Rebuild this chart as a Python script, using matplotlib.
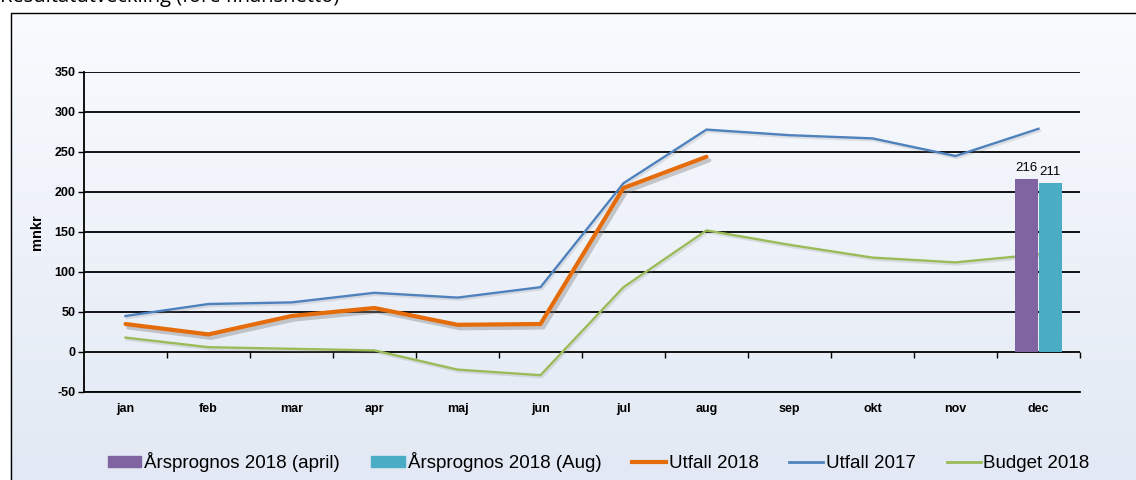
import matplotlib.pyplot as plt
import matplotlib.patheffects as pe
from matplotlib.patches import Rectangle, Patch
from matplotlib.lines import Line2D
from matplotlib.colors import LinearSegmentedColormap
import numpy as np

# Data (mnkr)
months = ["jan", "feb", "mar", "apr", "maj", "jun", "jul", "aug", "sep", "okt", "nov", "dec"]
utfall_2017 = [45, 60, 62, 74, 68, 81, 211, 278, 271, 267, 245, 279]
utfall_2018 = [35, 22, 45, 55, 34, 35, 205, 244]
budget_2018 = [18, 6, 4, 2, -22, -29, 81, 152, 134, 118, 112, 122]
prognos_april = 216
prognos_aug = 211

c_purple = "#8064A2"
c_teal = "#4BACC6"
c_orange = "#E46C0A"
c_blue = "#4F81BD"
c_green = "#9BBB59"

plt.rcParams['font.family'] = ['Liberation Sans', 'DejaVu Sans']
plt.rcParams['axes.unicode_minus'] = False

fig = plt.figure(figsize=(11.36, 4.8), dpi=100)
fig.patch.set_facecolor("white")

# gradient background inside the frame
bg = fig.add_axes([10 / 1136, 0, 1 - 10 / 1136, 1 - 12 / 480], zorder=-10)
grad = np.linspace(0, 1, 256).reshape(-1, 1)
cmap = LinearSegmentedColormap.from_list("bg", ["#F9FBFE", "#E2E9F4"])
bg.imshow(grad, aspect="auto", cmap=cmap, extent=[0, 1, 0, 1], origin="upper")
bg.set_axis_off()

# frame line
fig.patches.append(Rectangle((10.5 / 1136, -0.01), 1.1, 1 - 12.5 / 480 + 0.01,
                             transform=fig.transFigure, fill=False,
                             edgecolor="black", linewidth=1.0, zorder=5))

# heading, clipped at the top as in the reference
fig.text(0.0, 1 - 7 / 480, "Resultatutveckling (före finansnetto)", fontsize=14.5,
         family="Open Sans", va="bottom", ha="left", color="black")

ax = fig.add_axes([84 / 1136, 1 - 392 / 480, 996 / 1136, 320 / 480])
ax.set_facecolor("none")
x = np.arange(len(months))

thin_shadow = [pe.SimpleLineShadow(offset=(1, -1.5), shadow_color="gray", alpha=0.2), pe.Normal()]

ax.plot(x, budget_2018, color=c_green, lw=1.7, zorder=3, path_effects=thin_shadow)
ax.plot(x, utfall_2017, color=c_blue, lw=1.7, zorder=3, path_effects=thin_shadow)
ax.plot(x[:len(utfall_2018)], utfall_2018, color=c_orange, lw=3, zorder=4,
        solid_capstyle="round",
        path_effects=[pe.SimpleLineShadow(offset=(2, -2.5), shadow_color="gray", alpha=0.4), pe.Normal()])

bw = 0.28
b1 = ax.bar(x[-1] - bw / 2, prognos_april, width=bw, color=c_purple, zorder=5)
b2 = ax.bar(x[-1] + bw / 2, prognos_aug, width=bw, color=c_teal, zorder=5)
ax.bar_label(b1, padding=4, fontsize=9.5)
ax.bar_label(b2, padding=4, fontsize=9.5)

ax.set_xlim(-0.5, 11.5)
ax.set_ylim(-50, 350)
ax.set_yticks(range(-50, 351, 50))
ax.yaxis.grid(True, color="black", linewidth=1.3, zorder=1)
ax.set_axisbelow(True)
for s in ["top", "right"]:
    ax.spines[s].set_visible(False)
ax.spines["left"].set_linewidth(1.3)
ax.spines["bottom"].set_linewidth(1.3)
ax.tick_params(axis="y", length=4, width=1, labelsize=9, pad=2)
for lab in ax.get_yticklabels():
    lab.set_fontweight("bold")
ax.set_xticks(x)
ax.set_xticklabels(months, fontsize=9, fontweight="bold")
ax.tick_params(axis="x", length=0, pad=8)
ax.set_ylabel("mnkr", fontsize=10.5, fontweight="bold", labelpad=8)

# category boundary ticks on the zero line
sec = ax.secondary_xaxis(50 / 400)
sec.set_xticks(np.arange(0.5, 12, 1))
sec.set_xticklabels([])
sec.tick_params(axis="x", length=4, width=1, direction="out")
sec.spines["bottom"].set_visible(False)

handles = [Patch(color=c_purple), Patch(color=c_teal),
           Line2D([], [], color=c_orange, lw=3), Line2D([], [], color=c_blue, lw=2),
           Line2D([], [], color=c_green, lw=2)]
labels = ["Årsprognos 2018 (april)", "Årsprognos 2018 (Aug)", "Utfall 2018", "Utfall 2017", "Budget 2018"]
fig.legend(handles, labels, loc="center", bbox_to_anchor=(0.527, 1 - 462 / 480), ncol=5,
           frameon=False, fontsize=13.5, handlelength=1.8, handleheight=0.55,
           handletextpad=0.15, columnspacing=1.65)

plt.savefig("out.png", dpi=100)
